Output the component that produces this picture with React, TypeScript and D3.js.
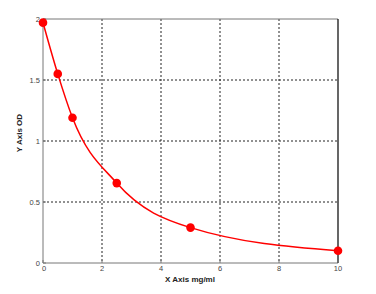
import React from "react";
import * as d3 from "d3";

const concentrations = [0, 0.5, 1, 2.5, 5, 10];
const odValues = [1.97, 1.55, 1.19, 0.655, 0.29, 0.1];
const xTicks = [0, 2, 4, 6, 8, 10];
const yTicks = [0, 0.5, 1, 1.5, 2];
const xLabel = "X Axis mg/ml";
const yLabel = "Y Axis OD";

export default function App() {
  const W = 376, H = 294;
  const left = 43, right = 338, top = 19, bottom = 263;
  const x = d3.scaleLinear().domain([0, 10]).range([left, right]);
  const y = d3.scaleLinear().domain([0, 2]).range([bottom, top]);
  const pts: [number, number][] = concentrations.map((c, i) => [c, odValues[i]]);
  const line = d3
    .line<[number, number]>()
    .x((d) => x(d[0]))
    .y((d) => y(d[1]))
    .curve(d3.curveMonotoneX);
  const font = "'Liberation Sans', Arial, sans-serif";
  return (
    <svg width={W} height={H} style={{ position: "absolute", left: 0, top: 0, background: "#fff" }}>
      <rect x={0} y={0} width={W} height={H} fill="#fff" />
      {xTicks.filter((t) => t > 0 && t < 10).map((t) => (
        <line key={"gx" + t} x1={x(t)} x2={x(t)} y1={top} y2={bottom} stroke="#222" strokeDasharray="2,2" strokeWidth={1} />
      ))}
      {yTicks.filter((t) => t > 0 && t < 2).map((t) => (
        <line key={"gy" + t} x1={left} x2={right} y1={y(t)} y2={y(t)} stroke="#222" strokeDasharray="2,2" strokeWidth={1} />
      ))}
      <line x1={left} x2={right} y1={top} y2={top} stroke="#777" strokeWidth={1} />
      <line x1={left} x2={right} y1={bottom} y2={bottom} stroke="#777" strokeWidth={1} />
      <line x1={left} x2={left} y1={top} y2={bottom} stroke="#777" strokeWidth={1} />
      <line x1={right} x2={right} y1={top} y2={bottom} stroke="#000" strokeWidth={1.2} />
      {xTicks.map((t) => (
        <g key={"tx" + t}>
          <line x1={x(t)} x2={x(t)} y1={bottom} y2={bottom - 3} stroke="#777" />
          <text x={x(t) + (t === 0 ? 1 : 0)} y={bottom + 8} fontSize={7.5} fill="#444" textAnchor="middle" fontFamily={font}>
            {t}
          </text>
        </g>
      ))}
      {yTicks.map((t) => (
        <g key={"ty" + t}>
          <line x1={left} x2={left + 3} y1={y(t)} y2={y(t)} stroke="#777" />
          <text x={left - 3} y={y(t) + 2.5} fontSize={7.5} fill="#444" textAnchor="end" fontFamily={font}>
            {t}
          </text>
        </g>
      ))}
      <path d={line(pts) || ""} fill="none" stroke="#f00" strokeWidth={1.5} />
      {pts.map((p, i) => (
        <circle key={"p" + i} cx={x(p[0])} cy={y(p[1])} r={4.3} fill="#f00" />
      ))}
      <text x={190} y={282} fontSize={8} fontWeight="bold" fill="#222" textAnchor="middle" fontFamily={font}>
        {xLabel}
      </text>
      <text transform={`translate(22,133) rotate(-90)`} fontSize={8} fontWeight="bold" fill="#222" textAnchor="middle" fontFamily={font}>
        {yLabel}
      </text>
    </svg>
  );
}
